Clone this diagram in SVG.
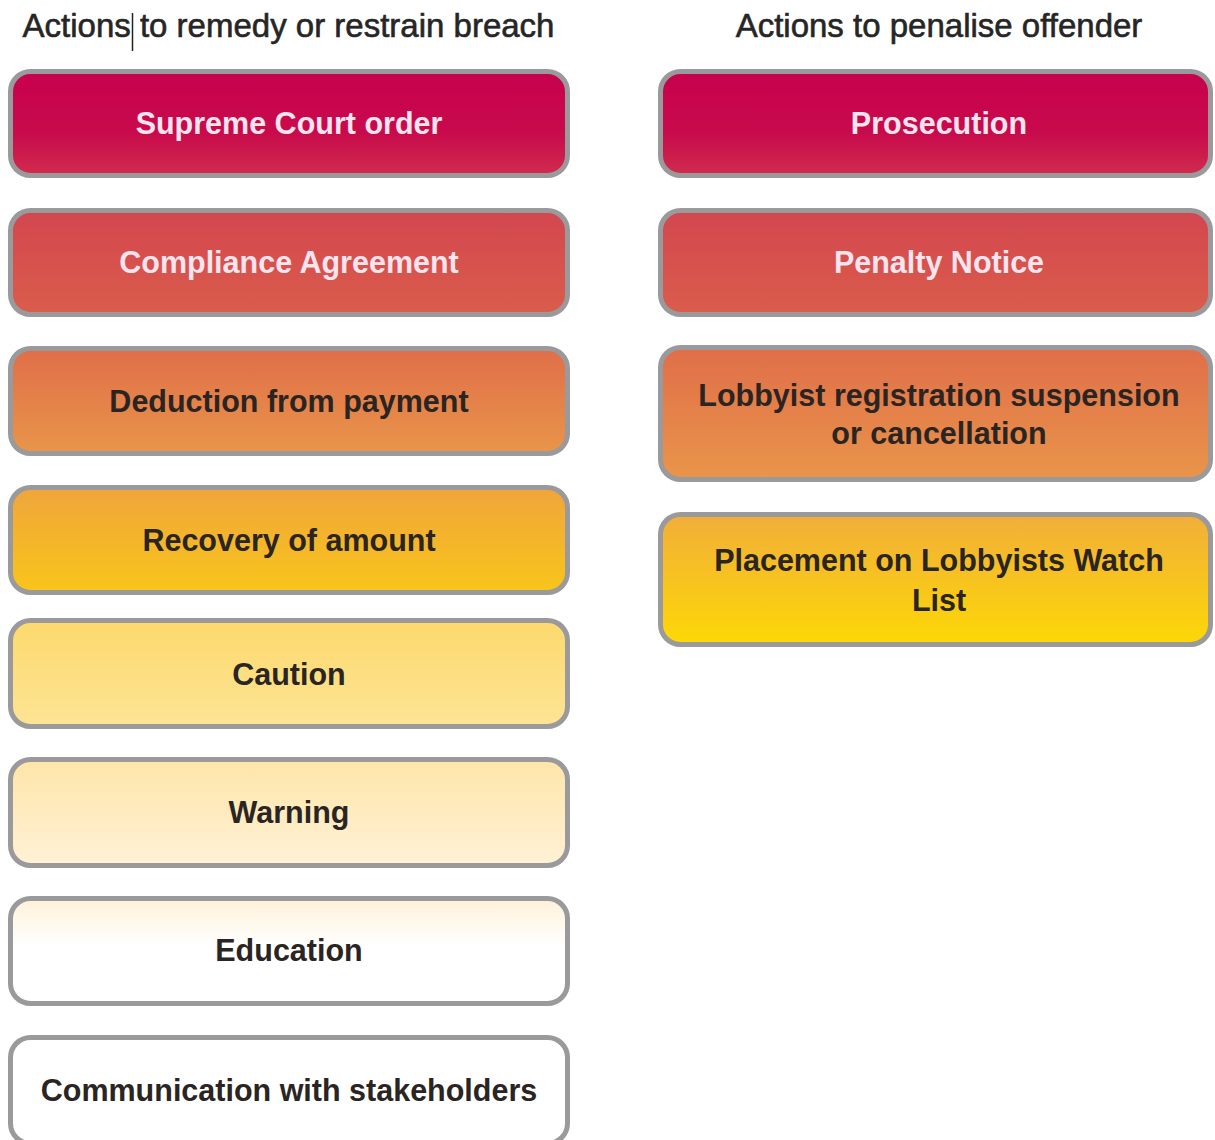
<svg xmlns="http://www.w3.org/2000/svg" width="1215" height="1140" viewBox="0 0 1215 1140">
<defs>
<linearGradient id="g1" x1="0" y1="0" x2="0" y2="1"><stop offset="0" stop-color="#c8004e"/><stop offset="0.6" stop-color="#c80b4c"/><stop offset="1" stop-color="#cf2d4d"/></linearGradient>
<linearGradient id="g2" x1="0" y1="0" x2="0" y2="1"><stop offset="0" stop-color="#d3464f"/><stop offset="1" stop-color="#da5d4b"/></linearGradient>
<linearGradient id="g3" x1="0" y1="0" x2="0" y2="1"><stop offset="0" stop-color="#e06e49"/><stop offset="1" stop-color="#e9954a"/></linearGradient>
<linearGradient id="g4" x1="0" y1="0" x2="0" y2="1"><stop offset="0" stop-color="#efa53c"/><stop offset="1" stop-color="#f9c51a"/></linearGradient>
<linearGradient id="g5" x1="0" y1="0" x2="0" y2="1"><stop offset="0" stop-color="#fdd96d"/><stop offset="1" stop-color="#fde495"/></linearGradient>
<linearGradient id="g6" x1="0" y1="0" x2="0" y2="1"><stop offset="0" stop-color="#fee5a8"/><stop offset="1" stop-color="#fff1d6"/></linearGradient>
<linearGradient id="g7" x1="0" y1="0" x2="0" y2="1"><stop offset="0" stop-color="#fef1d9"/><stop offset="0.45" stop-color="#ffffff"/><stop offset="1" stop-color="#ffffff"/></linearGradient>
<linearGradient id="g8" x1="0" y1="0" x2="0" y2="1"><stop offset="0" stop-color="#ffffff"/><stop offset="1" stop-color="#ffffff"/></linearGradient>
<linearGradient id="g9" x1="0" y1="0" x2="0" y2="1"><stop offset="0" stop-color="#f1ae3a"/><stop offset="1" stop-color="#fdd806"/></linearGradient>
</defs>
<style>
.box{stroke:#9a9a9c;stroke-width:5}
.hd{font-family:"Liberation Sans",Arial,sans-serif;font-size:33px;fill:#262626;stroke:#262626;stroke-width:0.6;text-anchor:middle}
.t{font-family:"Liberation Sans",Arial,sans-serif;font-size:30.5px;font-weight:bold;text-anchor:middle;fill:#2a2522}
.w{fill:#fbe4ee}
</style>
<rect width="1215" height="1140" fill="#ffffff"/>
<g id="headers">
<text class="hd" x="288.5" y="37">Actions to remedy or restrain breach</text>
<line x1="132.5" y1="13" x2="132.5" y2="51" stroke="#222" stroke-width="1.5"/>
<text class="hd" x="939" y="37">Actions to penalise offender</text>
</g>
<g id="connectors"></g>
<g id="n-supreme"><rect class="box" x="10.5" y="71.5" width="557" height="104" rx="20" fill="url(#g1)"/><text class="t w" x="289" y="134">Supreme Court order</text></g>
<g id="n-compliance"><rect class="box" x="10.5" y="210.5" width="557" height="104" rx="20" fill="url(#g2)"/><text class="t w" x="289" y="273">Compliance Agreement</text></g>
<g id="n-deduction"><rect class="box" x="10.5" y="348.5" width="557" height="105" rx="20" fill="url(#g3)"/><text class="t" x="289" y="412">Deduction from payment</text></g>
<g id="n-recovery"><rect class="box" x="10.5" y="487.5" width="557" height="105" rx="20" fill="url(#g4)"/><text class="t" x="289" y="551">Recovery of amount</text></g>
<g id="n-caution"><rect class="box" x="10.5" y="620.5" width="557" height="106" rx="20" fill="url(#g5)"/><text class="t" x="289" y="685">Caution</text></g>
<g id="n-warning"><rect class="box" x="10.5" y="759.5" width="557" height="106" rx="20" fill="url(#g6)"/><text class="t" x="289" y="823">Warning</text></g>
<g id="n-education"><rect class="box" x="10.5" y="898.5" width="557" height="105" rx="20" fill="url(#g7)"/><text class="t" x="289" y="961">Education</text></g>
<g id="n-communication"><rect class="box" x="10.5" y="1037.5" width="557" height="106" rx="20" fill="url(#g8)"/><text class="t" x="289" y="1101">Communication with stakeholders</text></g>
<g id="n-prosecution"><rect class="box" x="660.5" y="71.5" width="550" height="104" rx="20" fill="url(#g1)"/><text class="t w" x="939" y="134">Prosecution</text></g>
<g id="n-penalty"><rect class="box" x="660.5" y="210.5" width="550" height="104" rx="20" fill="url(#g2)"/><text class="t w" x="939" y="273">Penalty Notice</text></g>
<g id="n-lobbyist"><rect class="box" x="660.5" y="347.5" width="550" height="132" rx="20" fill="url(#g3)"/><text class="t" x="939" y="406">Lobbyist registration suspension</text><text class="t" x="939" y="444">or cancellation</text></g>
<g id="n-placement"><rect class="box" x="660.5" y="514.5" width="550" height="130" rx="20" fill="url(#g9)"/><text class="t" x="939" y="571">Placement on Lobbyists Watch</text><text class="t" x="939" y="611">List</text></g>
</svg>
